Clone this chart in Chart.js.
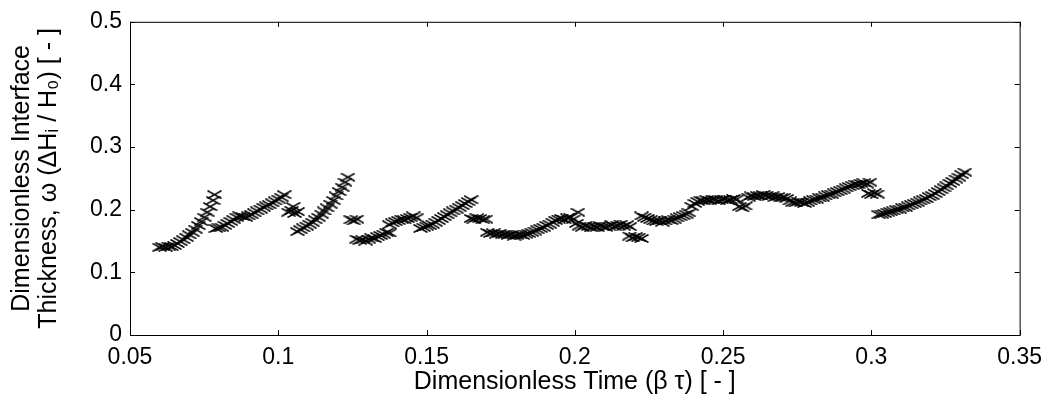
<!DOCTYPE html>
<html lang="en">
<head>
    <meta charset="UTF-8">
    <title>Interface Thickness</title>
    <script src="https://cdn.jsdelivr.net/npm/chart.js"></script>
    <style>
        body { margin: 0; background: #fff; }
    </style>
</head>
<body>
    <canvas id="scatterChart" width="1051" height="406"></canvas>

    <script>
        // Dimensionless time (x) and interface thickness (y)
        var timeVals = [
            0.0600, 0.0610, 0.0620, 0.0630, 0.0640, 0.0650, 0.0660, 0.0670, 0.0680, 0.0690,
            0.0700, 0.0710, 0.0720, 0.0730, 0.0740, 0.0750, 0.0760, 0.0770, 0.0780, 0.0785,
            0.0790, 0.0800, 0.0810, 0.0820, 0.0830, 0.0840, 0.0850, 0.0860, 0.0870, 0.0880,
            0.0890, 0.0900, 0.0910, 0.0920, 0.0930, 0.0940, 0.0950, 0.0960, 0.0970, 0.0980,
            0.0990, 0.1000, 0.1010, 0.1020,
            0.1035, 0.1045, 0.1055, 0.1065, 0.1050,
            0.1065, 0.1075, 0.1085, 0.1095, 0.1105, 0.1115, 0.1125, 0.1135, 0.1145, 0.1155,
            0.1165, 0.1175, 0.1185, 0.1195, 0.1205, 0.1215, 0.1225, 0.1235,
            0.1245, 0.1255, 0.1265,
            0.1265, 0.1275, 0.1285, 0.1295, 0.1305, 0.1315, 0.1325, 0.1335, 0.1345, 0.1355,
            0.1365, 0.1375,
            0.1375, 0.1385, 0.1395, 0.1405, 0.1415, 0.1425, 0.1435, 0.1445, 0.1455, 0.1465,
            0.1480, 0.1490, 0.1500, 0.1510, 0.1520, 0.1530, 0.1540, 0.1550, 0.1560, 0.1570,
            0.1580, 0.1590, 0.1600, 0.1610, 0.1620, 0.1630, 0.1640, 0.1650,
            0.1650, 0.1660, 0.1670, 0.1680, 0.1690, 0.1700,
            0.1705, 0.1715, 0.1725, 0.1735, 0.1745, 0.1755, 0.1765, 0.1775, 0.1785, 0.1795,
            0.1805, 0.1815, 0.1825, 0.1835, 0.1845, 0.1855, 0.1865, 0.1875, 0.1885, 0.1895,
            0.1905, 0.1915, 0.1925, 0.1935, 0.1945, 0.1955, 0.1965, 0.1975, 0.1985, 0.1995,
            0.2010,
            0.2005, 0.2015, 0.2025, 0.2035, 0.2045, 0.2055, 0.2065, 0.2075, 0.2085, 0.2095,
            0.2105, 0.2115, 0.2125, 0.2135, 0.2145, 0.2155, 0.2165, 0.2175, 0.2185,
            0.2185, 0.2195, 0.2205, 0.2215, 0.2225,
            0.2225, 0.2235, 0.2245, 0.2255, 0.2265, 0.2275, 0.2285, 0.2295, 0.2305, 0.2315,
            0.2325, 0.2335, 0.2345, 0.2355, 0.2365, 0.2375, 0.2385,
            0.2395, 0.2405, 0.2415, 0.2425, 0.2435, 0.2445, 0.2455, 0.2465, 0.2475, 0.2485,
            0.2495, 0.2505, 0.2515, 0.2525, 0.2535, 0.2545,
            0.2555, 0.2565, 0.2575,
            0.2585, 0.2595, 0.2605, 0.2615, 0.2625, 0.2635, 0.2645, 0.2655, 0.2665, 0.2675,
            0.2685, 0.2695, 0.2705, 0.2715,
            0.2725, 0.2735, 0.2745, 0.2755, 0.2765, 0.2775, 0.2785,
            0.2795, 0.2805, 0.2815, 0.2825, 0.2835, 0.2845, 0.2855, 0.2865, 0.2875, 0.2885,
            0.2895, 0.2905, 0.2915, 0.2925, 0.2935, 0.2945, 0.2955, 0.2965, 0.2975, 0.2985,
            0.2995,
            0.2990, 0.3000, 0.3010, 0.3020,
            0.3025, 0.3035, 0.3045, 0.3055, 0.3065, 0.3075, 0.3085, 0.3095, 0.3105, 0.3115,
            0.3125, 0.3135, 0.3145, 0.3155, 0.3165, 0.3175, 0.3185, 0.3195, 0.3205, 0.3215,
            0.3225, 0.3235, 0.3245, 0.3255, 0.3265, 0.3275, 0.3285, 0.3295, 0.3305, 0.3315
        ];
        var thicknessVals = [
            0.140, 0.141, 0.140, 0.142, 0.141, 0.143, 0.146, 0.149, 0.152, 0.156,
            0.160, 0.164, 0.169, 0.175, 0.181, 0.188, 0.196, 0.205, 0.215, 0.224,
            0.170, 0.171, 0.172, 0.175, 0.178, 0.181, 0.184, 0.188, 0.190, 0.189,
            0.188, 0.190, 0.192, 0.195, 0.198, 0.201, 0.204, 0.206, 0.208, 0.211,
            0.214, 0.217, 0.220, 0.224,
            0.196, 0.199, 0.194, 0.197, 0.205,
            0.165, 0.168, 0.171, 0.174, 0.177, 0.180, 0.184, 0.188, 0.193, 0.198,
            0.203, 0.209, 0.215, 0.222, 0.229, 0.236, 0.244, 0.252,
            0.184, 0.182, 0.185,
            0.153, 0.151, 0.152, 0.150, 0.153, 0.155, 0.154, 0.157, 0.159, 0.161,
            0.164, 0.163,
            0.176, 0.179, 0.181, 0.183, 0.185, 0.184, 0.186, 0.188, 0.190, 0.187,
            0.170, 0.172, 0.174, 0.175, 0.177, 0.180, 0.183, 0.186, 0.189, 0.192,
            0.195, 0.198, 0.201, 0.204, 0.207, 0.210, 0.213, 0.216,
            0.186, 0.185, 0.187, 0.186, 0.184, 0.185,
            0.164, 0.162, 0.163, 0.161, 0.162, 0.160, 0.161, 0.159, 0.160, 0.158,
            0.159, 0.160, 0.159, 0.161, 0.162, 0.164, 0.166, 0.168, 0.170, 0.172,
            0.175, 0.177, 0.180, 0.183, 0.185, 0.186, 0.184, 0.187, 0.188, 0.185,
            0.196,
            0.178, 0.174, 0.172, 0.175, 0.173, 0.171, 0.174, 0.172, 0.175, 0.173,
            0.172, 0.174, 0.176, 0.173, 0.175, 0.177, 0.174, 0.176, 0.173,
            0.158, 0.155, 0.157, 0.156, 0.154,
            0.190, 0.188, 0.186, 0.184, 0.182, 0.181, 0.182, 0.180, 0.182, 0.184,
            0.183, 0.185, 0.187, 0.189, 0.191, 0.193, 0.195,
            0.205, 0.210, 0.213, 0.215, 0.214, 0.216, 0.215, 0.217, 0.216, 0.214,
            0.216, 0.217, 0.215, 0.216, 0.218, 0.217,
            0.205, 0.203, 0.206,
            0.220, 0.222, 0.221, 0.223, 0.222, 0.224, 0.223, 0.221, 0.222, 0.220,
            0.221, 0.219, 0.220, 0.218,
            0.214, 0.212, 0.211, 0.213, 0.212, 0.210, 0.212,
            0.214, 0.216, 0.217, 0.219, 0.220, 0.222, 0.224, 0.225, 0.227, 0.229,
            0.231, 0.233, 0.235, 0.237, 0.239, 0.241, 0.240, 0.242, 0.243, 0.241,
            0.244,
            0.226, 0.224, 0.227, 0.225,
            0.192, 0.193, 0.194, 0.196, 0.197, 0.198, 0.200, 0.201, 0.203, 0.204,
            0.206, 0.208, 0.210, 0.212, 0.214, 0.216, 0.218, 0.221, 0.223, 0.226,
            0.229, 0.232, 0.235, 0.238, 0.242, 0.245, 0.249, 0.252, 0.256, 0.260
        ];
        var xTicks = [0.05, 0.1, 0.15, 0.2, 0.25, 0.3, 0.35];
        var yTicks = [0, 0.1, 0.2, 0.3, 0.4, 0.5];

        var points = timeVals.map(function (t, i) {
            return { x: t, y: thicknessVals[i] };
        });

        // MATLAB style 'x' marker, a bit wider than tall
        var marker = document.createElement('canvas');
        marker.width = 15;
        marker.height = 9;
        var mctx = marker.getContext('2d');
        mctx.strokeStyle = '#000';
        mctx.lineWidth = 1.5;
        mctx.beginPath();
        mctx.moveTo(0.5, 0.5); mctx.lineTo(14.5, 8.5);
        mctx.moveTo(14.5, 0.5); mctx.lineTo(0.5, 8.5);
        mctx.stroke();

        var tickFont = { family: 'Liberation Sans, Arial, sans-serif', size: 23 };
        var titleFont = { family: 'Liberation Sans, Arial, sans-serif', size: 25, lineHeight: 1.08 };

        // box around the axes with small inward ticks on all four sides
        var boxTicks = {
            id: 'boxTicks',
            afterDraw: function (chart) {
                var ctx = chart.ctx;
                var a = chart.chartArea;
                var xs = chart.scales.x;
                var ys = chart.scales.y;
                var len = 5;
                ctx.save();
                ctx.strokeStyle = '#000';
                ctx.lineWidth = 1;
                ctx.strokeRect(a.left + 0.5, a.top + 0.5, a.right - a.left, a.bottom - a.top);
                ctx.beginPath();
                xTicks.forEach(function (v) {
                    var px = Math.round(xs.getPixelForValue(v)) + 0.5;
                    ctx.moveTo(px, a.bottom); ctx.lineTo(px, a.bottom - len);
                    ctx.moveTo(px, a.top); ctx.lineTo(px, a.top + len);
                });
                yTicks.forEach(function (v) {
                    var py = Math.round(ys.getPixelForValue(v)) + 0.5;
                    ctx.moveTo(a.left, py); ctx.lineTo(a.left + len, py);
                    ctx.moveTo(a.right, py); ctx.lineTo(a.right - len, py);
                });
                ctx.stroke();
                ctx.restore();
            }
        };

        var ctx = document.getElementById('scatterChart').getContext('2d');
        var chart = new Chart(ctx, {
            type: 'scatter',
            data: {
                datasets: [{
                    data: points,
                    pointStyle: marker,
                    pointRadius: 6,
                    pointHoverRadius: 6
                }]
            },
            options: {
                responsive: false,
                animation: false,
                events: [],
                layout: { padding: { top: 17, right: 30, left: 0, bottom: 0 } },
                plugins: {
                    legend: { display: false },
                    tooltip: { enabled: false }
                },
                scales: {
                    x: {
                        type: 'linear',
                        min: 0.05,
                        max: 0.35,
                        afterBuildTicks: function (scale) {
                            scale.ticks = xTicks.map(function (v) { return { value: v }; });
                        },
                        afterFit: function (scale) { scale.height = 71; },
                        grid: { display: false, drawTicks: false },
                        border: { display: false },
                        ticks: {
                            color: '#000',
                            font: tickFont,
                            padding: 9,
                            maxRotation: 0,
                            autoSkip: false,
                            callback: function (v) { return String(Number(v.toFixed(2))); }
                        },
                        title: {
                            display: true,
                            text: 'Dimensionless Time (\u03B2 \u03C4) [ - ]',
                            color: '#000',
                            font: titleFont,
                            padding: { top: 0, bottom: 10 }
                        }
                    },
                    y: {
                        type: 'linear',
                        min: 0,
                        max: 0.5,
                        afterBuildTicks: function (scale) {
                            scale.ticks = yTicks.map(function (v) { return { value: v }; });
                        },
                        afterFit: function (scale) { scale.width = 130; },
                        grid: { display: false, drawTicks: false },
                        border: { display: false },
                        ticks: {
                            color: '#000',
                            font: tickFont,
                            padding: 8,
                            autoSkip: false,
                            callback: function (v) { return String(Number(v.toFixed(1))); }
                        },
                        title: {
                            display: true,
                            text: ['Dimensionless Interface', 'Thickness, \u03C9 (\u0394H\u1D62 / H\u2080) [ - ]'],
                            color: '#000',
                            font: titleFont,
                            padding: { top: 9, bottom: 0 }
                        }
                    }
                }
            },
            plugins: [boxTicks]
        });
    </script>
</body>
</html>
